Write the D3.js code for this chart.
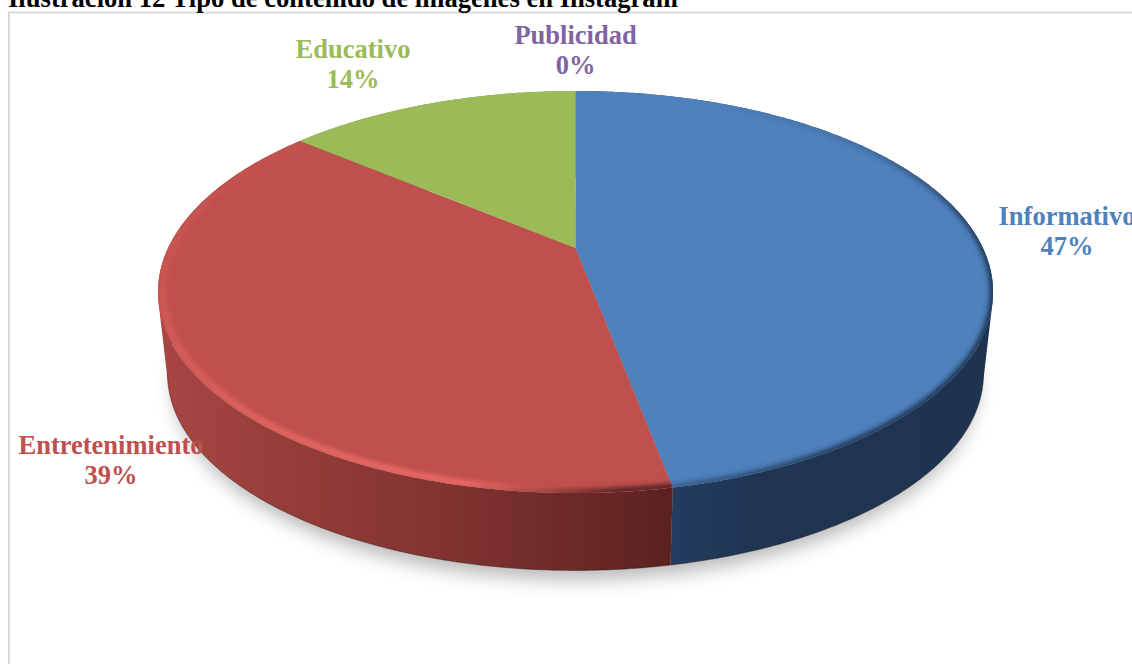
<!DOCTYPE html>
<html lang="es">
<head>
<meta charset="utf-8">
<title>Tipo de contenido de imágenes en Instagram</title>
<script src="https://cdn.jsdelivr.net/npm/d3@7"></script>
<style>
  html, body { margin: 0; padding: 0; background: #fff; overflow: hidden; }
  svg { display: block; }
  text { font-family: "Liberation Serif", serif; font-weight: bold; }
</style>
</head>
<body>
<svg id="chart" width="1132" height="664"></svg>
<script>
// Chart content
const titleText = "Ilustración 12 Tipo de contenido de imágenes en Instagram";
const categories = ["Informativo", "Entretenimiento", "Educativo", "Publicidad"];
const shares = [47, 39, 14, 0];
const faceColors = ["#4f81bd", "#c0504d", "#9bbb59", "#8064a2"];
const labelX = [1067, 111, 353, 575.5];
const labelY = [225, 454, 58, 44];

const width = 1132, height = 664;
const svg = d3.select("#chart").attr("viewBox", [0, 0, width, height]);
const defs = svg.append("defs");

// Perspective projection of a flat disc seen from above and in front
const cx = 575.5, radiusX = 407.4, radiusY = 191.4, tilt = 0.219;
const topY = 248, bottomY = 331, bottomScale = 0.977;
function project(angle, scale, originY) {
  const u = Math.sin(angle), v = -Math.cos(angle), w = 1 - tilt * v;
  return [cx + scale * radiusX * u / w, originY + scale * radiusY * v / w];
}
const line = d3.line();
function rim(a0, a1, scale, originY) {
  const n = Math.max(2, Math.ceil((a1 - a0) / 0.01));
  return d3.range(n + 1).map(i => project(a0 + (a1 - a0) * i / n, scale, originY));
}
// Angles between which the lower rim faces the viewer
const frontStart = Math.PI - Math.acos(tilt), frontEnd = Math.PI + Math.acos(tilt);

const pie = d3.pie().sort(null).value(d => d).startAngle(0).endAngle(2 * Math.PI);
const slices = pie(shares).map((d, i) => ({ ...d, i }));

// Filters and gradients
defs.append("filter").attr("id", "shadowBlur")
  .attr("x", "-10%").attr("y", "-10%").attr("width", "120%").attr("height", "125%")
  .append("feGaussianBlur").attr("stdDeviation", 9);
const rimFilter = (id, sd) => defs.append("filter").attr("id", id)
  .attr("filterUnits", "userSpaceOnUse").attr("x", 0).attr("y", 0)
  .attr("width", width).attr("height", height)
  .append("feGaussianBlur").attr("stdDeviation", sd);
rimFilter("rimBlur", 2.8);
rimFilter("edgeBlur", 0.7);

function gradient(id, [x1, y1], [x2, y2], stops) {
  const g = defs.append("linearGradient").attr("id", id)
    .attr("gradientUnits", "userSpaceOnUse")
    .attr("x1", x1).attr("y1", y1).attr("x2", x2).attr("y2", y2);
  stops.forEach(([o, c, a]) => g.append("stop")
    .attr("offset", o).attr("stop-color", c).attr("stop-opacity", a === undefined ? 1 : a));
}
gradient("side0", [668, 0], [993, 0], [[0, "#243c60"], [0.25, "#1f3552"], [1, "#1e3350"]]);
gradient("side1", [160, 0], [668, 0], [[0, "#a84643"], [0.25, "#963d39"], [0.6, "#7e3230"], [1, "#5c2220"]]);
gradient("side2", [297, 0], [576, 0], [[0, "#76923c"], [1, "#76923c"]]);
gradient("side3", [570, 0], [580, 0], [[0, "#604a7b"], [1, "#604a7b"]]);

// Rim shading on the top face: dark on the blue slice, a highlight on the red
// one, both fading towards the back of the disc
gradient("rim0", [700, 110], [960, 300], [[0, "#1f3552", 0], [0.5, "#1f3552", 0.3], [1, "#1f3552", 1]]);
gradient("rim1", [260, 170], [380, 470], [[0, "#ee6a66", 0.1], [0.55, "#ee6a66", 0.7], [1, "#f06c68", 1]]);
gradient("rim1dark", [470, 0], [620, 0], [[0, "#5c2220", 0], [1, "#5c2220", 1]]);

// Frame of the chart area, open on the right and at the bottom
svg.append("path")
  .attr("d", line([[9, height], [9, 12.5], [width, 12.5]]))
  .attr("fill", "none").attr("stroke", "#d9d9d9").attr("stroke-width", 2);

svg.append("text")
  .attr("x", 8).attr("y", 7)
  .attr("font-size", 26.6).attr("fill", "#000")
  .text(titleText);

// Soft drop shadow under the disc
svg.append("path")
  .attr("d", line(rim(0, 2 * Math.PI, bottomScale * 0.985, bottomY + 13)) + "Z")
  .attr("fill", "#000").attr("fill-opacity", 0.27)
  .attr("filter", "url(#shadowBlur)");

const visible = slices.filter(d => d.endAngle > d.startAngle);

// Side walls: the band swept between the top and bottom rims, as same-wound
// quads so the silhouette stays straight at the far left and right
function wall(d) {
  const a = rim(d.startAngle, d.endAngle, 1, topY);
  const b = rim(d.startAngle, d.endAngle, bottomScale, bottomY);
  return d3.range(a.length - 1).map(k => {
    const quad = [a[k], a[k + 1], b[k + 1], b[k]];
    return line(d3.polygonArea(quad) < 0 ? quad.reverse() : quad) + "Z";
  }).join("");
}
svg.append("g").selectAll("path").data(visible).join("path")
  .attr("d", wall)
  .attr("fill", d => `url(#side${d.i})`);

// Darker line where the front of the walls meets the ground
svg.append("g").selectAll("path").data(visible.filter(d => d.i < 2)).join("path")
  .attr("d", d => line(rim(
    Math.max(d.startAngle, frontStart), Math.min(d.endAngle, frontEnd),
    bottomScale, bottomY)))
  .attr("fill", "none").attr("stroke", "#2a1414").attr("stroke-opacity", 0.45)
  .attr("stroke-width", 1).attr("filter", "url(#edgeBlur)");

// Top faces
function sector(d) {
  return line([[cx, topY], ...rim(d.startAngle, d.endAngle, 1, topY)]) + "Z";
}
svg.append("g").selectAll("path").data(visible).join("path")
  .attr("d", sector)
  .attr("fill", d => faceColors[d.i]);

// Bevel along the outer edge of each top face, kept inside its own sector
defs.selectAll("clipPath").data(visible).join("clipPath")
  .attr("id", d => `clip${d.i}`)
  .append("path").attr("d", sector);
const bevels = [
  { i: 0, stroke: "url(#rim0)", scale: 1, w: 7 },
  { i: 1, stroke: "url(#rim1)", scale: 0.989, w: 6 },
  { i: 1, stroke: "url(#rim1dark)", scale: 0.996, w: 9 }
];
svg.append("g").selectAll("g").data(bevels).join("g")
  .attr("clip-path", b => `url(#clip${b.i})`)
  .append("path")
  .attr("d", b => {
    const d = slices[b.i];
    return line(rim(d.startAngle - 0.1, d.endAngle + 0.1, b.scale, topY));
  })
  .attr("fill", "none")
  .attr("stroke", b => b.stroke)
  .attr("stroke-width", b => b.w)
  .attr("filter", "url(#rimBlur)");

// Data labels: category name above its share
const labels = svg.append("g").selectAll("text").data(slices).join("text")
  .attr("text-anchor", "middle")
  .attr("font-size", 26.5)
  .attr("fill", d => faceColors[d.i]);
labels.append("tspan")
  .attr("x", d => labelX[d.i]).attr("y", d => labelY[d.i])
  .text(d => categories[d.i]);
labels.append("tspan")
  .attr("x", d => labelX[d.i]).attr("y", d => labelY[d.i] + 30)
  .text(d => d3.format(".0f")(d.value) + "%");
</script>
</body>
</html>
